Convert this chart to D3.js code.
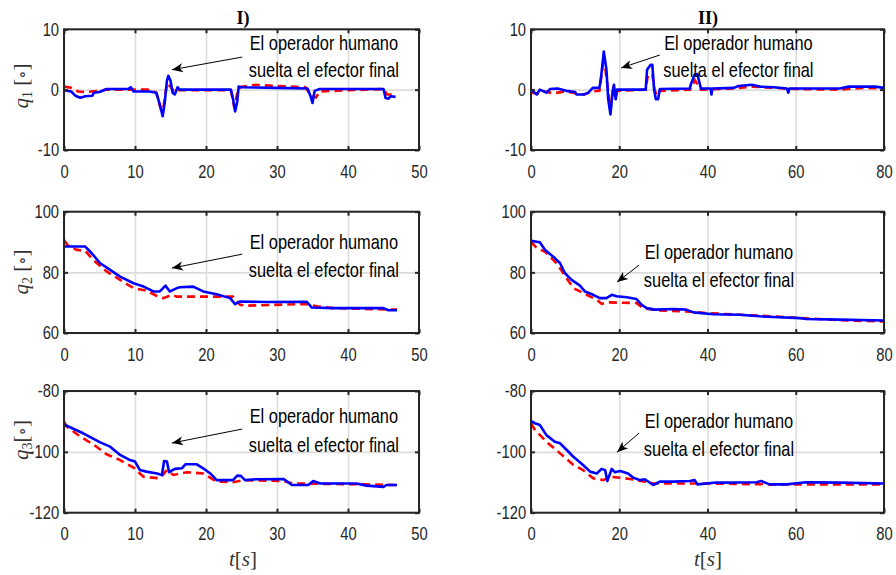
<!DOCTYPE html>
<html><head><meta charset="utf-8">
<script src="https://cdn.jsdelivr.net/npm/d3@7"></script>
<style>
body{margin:0;background:#fff;}
svg{display:block;}
.tick text{font-family:"Liberation Sans Narrow","Arial Narrow","Liberation Sans",Arial,sans-serif;font-size:18px;fill:#262626;}
.ann{font-family:"Liberation Sans Narrow","Arial Narrow","Liberation Sans",Arial,sans-serif;font-size:20px;fill:#000;}
</style></head><body>
<svg id="c" width="896" height="575"></svg>
<script>
// ---------------- DATA ----------------
const panelTitles = ["I)", "II)"];
const xTicksI = [0, 10, 20, 30, 40, 50];
const xTicksII = [0, 20, 40, 60, 80];
const yTicksQ1 = [-10, 0, 10];
const yTicksQ2 = [60, 80, 100];
const yTicksQ3 = [-120, -100, -80];
const yLabels = ["1", "2", "3"];
const annLine1 = "El operador humano";
const annLine2 = "suelta el efector final";

// q1, experiment I  [t, value]
const q1_I_real = [[0,-0.1],[1,-0.3],[1.6,-1.0],[2.3,-1.35],[3,-1.1],[4,-1.0],[4.2,-0.5],[5,-0.4],[6,0.1],[9,0.1],[9.4,0.4],[9.8,-0.3],[12,-0.3],[13,-0.5],[13.5,-2.5],[13.9,-4.4],[14.2,-2],[14.5,1.5],[14.7,2.3],[15,1.5],[15.3,-0.5],[15.6,-0.8],[16,0.4],[16.3,0],[23.5,0],[23.8,-1.5],[24.1,-3.6],[24.4,-2],[24.6,0.5],[25,0.4],[30,0.3],[34.3,0.2],[34.7,-1],[35,-2.2],[35.3,-0.2],[36,0.1],[45,0.1],[45.3,-1.4],[45.7,-1.5],[46,-1.1],[46.7,-1.2]];
const q1_I_ref = [[0,0.5],[1,0.3],[2,-0.3],[3,-0.4],[5,-0.2],[6,0],[12,0],[13,-0.5],[13.7,-3.5],[14,-3],[14.5,1],[15,0.5],[15.5,-0.3],[16,-0.1],[23.5,-0.1],[24,-3],[24.5,0],[25,0.5],[27,0.8],[30,0.6],[34,0.4],[34.8,-1],[35.5,-1.3],[36,-0.3],[40,-0.1],[45,0.1],[45.5,-0.8],[46.7,-0.8]];
// q1, experiment II
const q1_II_real = [[0,0],[1.3,-0.8],[2,0],[3.5,-0.5],[4.3,0.1],[6,0.2],[8,-0.2],[10,-0.4],[10.3,-0.8],[12,-0.8],[13,-0.5],[14,0.3],[15.5,0.3],[15.8,1.5],[16.5,6.3],[17.1,3.3],[17.5,-1.6],[18,-4.1],[18.5,-0.5],[18.8,0.8],[19.2,-1.6],[19.5,0],[26,0],[26.3,3.3],[27.1,4.1],[27.5,4.1],[27.9,0],[28.3,-1.6],[28.8,-1.6],[29.2,0.1],[36,0.2],[36.2,0.8],[37.1,2.5],[37.7,2.6],[38.5,0.2],[40.7,0.2],[40.9,-0.8],[41.1,0.2],[46,0.3],[47,0.6],[50,0.8],[52,0.5],[55,0.4],[58,0.2],[58.3,-0.5],[58.6,0.2],[70,0.2],[72,0.5],[78,0.5],[80,0.3]];
const q1_II_ref = [[0,-0.5],[2,-0.7],[3,-0.3],[5,-0.6],[8,-0.3],[10,-0.6],[12,-0.8],[14,-0.3],[15.5,-0.2],[16.5,5.5],[17.1,2],[18,-3],[18.6,0],[19.2,-1],[19.6,-0.2],[26,0],[26.5,2.5],[27.5,2.5],[28,0],[28.5,-1],[29.2,-0.2],[36,0],[37.2,1.5],[38.5,0],[46,0.2],[50,0.5],[55,0.3],[60,0.1],[70,0],[75,0.3],[80,0.2]];
// q2, experiment I
const q2_I_real = [[0,88.5],[3,88.5],[3.9,86.3],[5.1,83],[6.5,80.8],[7.9,78.6],[9.8,76.4],[11.2,75.3],[12.6,73.7],[13.5,73.7],[14.3,75.6],[14.9,73.7],[15.9,74.8],[16.3,75.1],[18.2,75.3],[19.6,73.7],[21.5,72.8],[23.4,71.5],[24.1,69.5],[24.8,70.4],[28.5,70.2],[34.2,70.3],[34.9,68.4],[37.9,68.2],[45,68.2],[45.7,67.5],[46.9,67.5]];
const q2_I_ref = [[0,90.7],[0.5,89],[1.8,87.4],[3,87.1],[4.1,84.1],[6,80.3],[7.9,77.5],[9.8,74.8],[11.6,74.0],[13,72.3],[14,71.5],[15.2,72.6],[15.9,72],[23.8,72],[24.8,69.3],[25.7,69],[34.2,69.6],[35.6,68.8],[37.9,68.2],[46.9,67.7]];
// q2, experiment II
const q2_II_real = [[0,90.4],[2,89.9],[3.2,87.4],[5.4,84.7],[6.6,83],[7.7,79.7],[9.2,77.5],[11.1,75.6],[12.2,73.7],[14.1,72.6],[15.6,71.5],[17.1,71.5],[18.3,72.6],[19.4,72.1],[21.7,71.8],[23.9,71.2],[25.1,69.3],[26.2,68.2],[28.1,67.7],[32.2,67.9],[35.2,67.7],[36.8,66.8],[41.3,66.2],[47.3,66.0],[51.8,65.5],[54.9,65.3],[60.9,64.9],[62.4,64.6],[70,64.4],[80,64.1]];
const q2_II_ref = [[0,90.1],[1.3,88],[3.2,86.8],[5.8,83],[8.1,78],[9.6,74.8],[12.6,72.6],[14.9,71],[16,69.6],[17.1,70.1],[23.9,69.9],[25.4,68.2],[28.5,67.5],[35.2,67.1],[39.8,66.6],[47.3,66],[54.9,65.5],[70,64.2],[80,63.8]];
// q3, experiment I
const q3_I_real = [[0,-91],[2.7,-93.9],[5.1,-96.9],[6.5,-98.3],[7.9,-101],[9.3,-102.7],[10,-103.2],[10.7,-106],[11.6,-106.5],[13.1,-107.1],[13.8,-107.6],[14.1,-103],[14.5,-103.2],[14.8,-106.7],[15.6,-105.6],[16.6,-105.4],[17.1,-104.1],[18.7,-104.1],[19.6,-105.4],[20.6,-107.1],[21.5,-109.3],[23.8,-109.3],[24.4,-107.8],[24.9,-107.9],[25.5,-109.3],[27.1,-109],[30.9,-108.9],[32.1,-110.9],[34.4,-110.9],[35.1,-109.6],[36.1,-110.4],[41.2,-110.4],[42.6,-111.1],[45,-111.5],[45.4,-110.9],[46.9,-110.9]];
const q3_I_ref = [[0,-90.1],[0.4,-91.7],[2.3,-95],[4.1,-97.5],[6,-100.8],[7.9,-102.7],[9.8,-105.2],[11.2,-108.2],[13.5,-108.7],[14.5,-106],[15.4,-107.6],[17.3,-106.7],[19.6,-107.1],[21.5,-109.8],[23.8,-110],[25.3,-109.3],[30.9,-109.6],[32.3,-110.4],[42.6,-110.7],[46.9,-110.9]];
// q3, experiment II
const q3_II_real = [[0,-89.9],[0.9,-90.6],[2,-91.2],[3.5,-94.5],[5.4,-96.7],[6.6,-97.2],[8.1,-99.4],[9.6,-101.6],[11.8,-104.3],[13.4,-106.5],[14.9,-107.1],[16,-105.6],[16.8,-106],[17.3,-109.6],[18.3,-105.6],[19,-106.7],[20.2,-106.3],[22,-107.1],[23.2,-108.5],[24.7,-109.3],[25.8,-109],[27.7,-110.9],[29.2,-109.8],[32.2,-109.8],[36,-109.6],[37.1,-109.3],[37.7,-110.7],[42,-110.1],[51.1,-110],[52.2,-109.6],[54.1,-110.7],[57.9,-110.7],[62.4,-110],[70,-110.1],[80,-110.4]];
const q3_II_ref = [[0,-90.6],[0.9,-92.8],[3.5,-96.7],[6.6,-100.5],[9.6,-104.3],[11.8,-106],[14.1,-108.7],[16.4,-109.3],[17.9,-108.2],[20.2,-108.5],[22.4,-108.9],[27.7,-110.4],[39.8,-110.4],[54.9,-110.7],[80,-110.7]];

// annotation anchors in data units: [headX, headY, tailX, tailY, textX, line1Y, line2Y]
const annI = [[15.2,3.3,25.1,5.4,36.6,6.57,2.1],[15.2,81.4,25.1,86.0,36.6,87.7,78.4],[15.2,-97.1,25.1,-92.5,36.6,-90.5,-100.1]];
const annII = [[20.4,3.6,29.2,5.74,47.0,6.57,2.1],[19.5,76.8,24.5,82.4,42.6,84.4,75.1],[19.5,-100.1,24.5,-93.8,42.6,-92.2,-101.4]];

// ---------------- LAYOUT ----------------
const NARROW = 0.82;
const svg = d3.select("#c");
const cols = [
  {x0:64, x1:419, domain:[0,50], ticks:xTicksI, title:panelTitles[0], tcx:243, series:[[q1_I_ref,q1_I_real],[q2_I_ref,q2_I_real],[q3_I_ref,q3_I_real]], ann:annI},
  {x0:531, x1:884, domain:[0,80], ticks:xTicksII, title:panelTitles[1], tcx:708, series:[[q1_II_ref,q1_II_real],[q2_II_ref,q2_II_real],[q3_II_ref,q3_II_real]], ann:annII}
];
const rows = [
  {y0:29.3, y1:150, domain:[-10,10], ticks:yTicksQ1, labY:86},
  {y0:211.7, y1:333, domain:[60,100], ticks:yTicksQ2, labY:272},
  {y0:391, y1:512.7, domain:[-120,-80], ticks:yTicksQ3, labY:440}
];
const fmt = d => String(d);

const defs = svg.append("defs");
defs.append("marker").attr("id","ah").attr("viewBox","-12 -6 14 12")
  .attr("markerWidth",14).attr("markerHeight",12).attr("refX",0).attr("refY",0)
  .attr("orient","auto").attr("markerUnits","userSpaceOnUse")
  .append("path").attr("d","M0,0 L-11,-4.5 L-8,0 L-11,4.5 Z").attr("fill","#000");

function narrowText(g, x, y, str) {
  return g.append("text").attr("class","ann").attr("text-anchor","middle")
    .attr("transform", `translate(${x},${y}) scale(${NARROW},1)`).text(str);
}

cols.forEach((c, ci) => {
  rows.forEach((r, ri) => {
    const x = d3.scaleLinear().domain(c.domain).range([c.x0, c.x1]);
    const y = d3.scaleLinear().domain(r.domain).range([r.y1, r.y0]);
    const g = svg.append("g");
    const w = c.x1 - c.x0, h = r.y1 - r.y0;
    const cid = "clip" + ci + ri;
    defs.append("clipPath").attr("id", cid).append("rect")
      .attr("x", c.x0).attr("y", r.y0).attr("width", w).attr("height", h);

    // grid
    const gx = g.append("g").attr("transform", `translate(0,${r.y1})`)
      .call(d3.axisBottom(x).tickValues(c.ticks).tickSize(-h).tickFormat(""));
    const gy = g.append("g").attr("transform", `translate(${c.x0},0)`)
      .call(d3.axisLeft(y).tickValues(r.ticks).tickSize(-w).tickFormat(""));
    [gx, gy].forEach(a => { a.select(".domain").remove(); a.selectAll("line").attr("stroke","#dcdcdc").attr("stroke-width",1.6); });

    // lines
    const line = d3.line().x(d => x(d[0])).y(d => y(d[1]));
    const lg = g.append("g").attr("clip-path", `url(#${cid})`);
    lg.append("path").datum(c.series[ri][0]).attr("d", line).attr("fill","none")
      .attr("stroke","#ff0000").attr("stroke-width",2.6).attr("stroke-dasharray","8,5");
    lg.append("path").datum(c.series[ri][1]).attr("d", line).attr("fill","none")
      .attr("stroke","#0000ff").attr("stroke-width",2.6).attr("stroke-linejoin","round");

    // axes with inward ticks on four sides
    const ab = g.append("g").attr("transform", `translate(0,${r.y1})`)
      .call(d3.axisBottom(x).tickValues(c.ticks).tickSize(-4).tickPadding(15).tickFormat(fmt));
    const at = g.append("g").attr("transform", `translate(0,${r.y0})`)
      .call(d3.axisTop(x).tickValues(c.ticks).tickSize(-4).tickFormat(""));
    const al = g.append("g").attr("transform", `translate(${c.x0},0)`)
      .call(d3.axisLeft(y).tickValues(r.ticks).tickSize(-4).tickPadding(6).tickFormat(fmt));
    const ar = g.append("g").attr("transform", `translate(${c.x1},0)`)
      .call(d3.axisRight(y).tickValues(r.ticks).tickSize(-4).tickFormat(""));
    [ab, at, al, ar].forEach(a => {
      a.select(".domain").remove();
      a.selectAll(".tick line").attr("stroke","#262626").attr("stroke-width",2);
      a.selectAll(".tick text").attr("transform", `scale(${NARROW},1)`);
      a.attr("font-family", null).attr("font-size", null);
    });
    g.append("rect").attr("x", c.x0).attr("y", r.y0).attr("width", w).attr("height", h)
      .attr("fill","none").attr("stroke","#262626").attr("stroke-width",2);

    // annotation
    const an = c.ann[ri];
    g.append("line").attr("x1", x(an[2])).attr("y1", y(an[3])).attr("x2", x(an[0])).attr("y2", y(an[1]))
      .attr("stroke","#000").attr("stroke-width",1).attr("marker-end","url(#ah)");
    narrowText(g, x(an[4]), y(an[5]), annLine1);
    narrowText(g, x(an[4]), y(an[6]), annLine2);

    // y label (left column only)
    if (ci === 0) {
      const t = svg.append("text").attr("transform", `translate(28,${r.labY}) rotate(-90)`)
        .attr("text-anchor","middle").attr("font-family","'Liberation Serif','DejaVu Serif',serif")
        .attr("font-size",21).attr("fill","#333");
      t.append("tspan").attr("font-style","italic").text("q");
      t.append("tspan").attr("font-size",14).attr("dy",4).text(yLabels[ri]);
      t.append("tspan").attr("dy",-4).text(ri === 2 ? "[" : " [");
      t.append("tspan").attr("font-size",17).text("∘");
      t.append("tspan").text("]");
    }
    // x label (bottom row)
    if (ri === 2) {
      const t = svg.append("text").attr("x", c.tcx).attr("y", 566).attr("text-anchor","middle")
        .attr("font-family","'Liberation Serif','DejaVu Serif',serif").attr("font-size",21).attr("fill","#333");
      t.append("tspan").attr("font-style","italic").text("t");
      t.append("tspan").text("[");
      t.append("tspan").attr("font-style","italic").text("s");
      t.append("tspan").text("]");
    }
  });
  svg.append("text").attr("x", c.tcx).attr("y", 24).attr("text-anchor","middle")
    .attr("font-family","'Liberation Serif','Times New Roman',serif").attr("font-weight","bold")
    .attr("font-size",18).attr("fill","#000").text(c.title);
});
</script>
</body></html>
